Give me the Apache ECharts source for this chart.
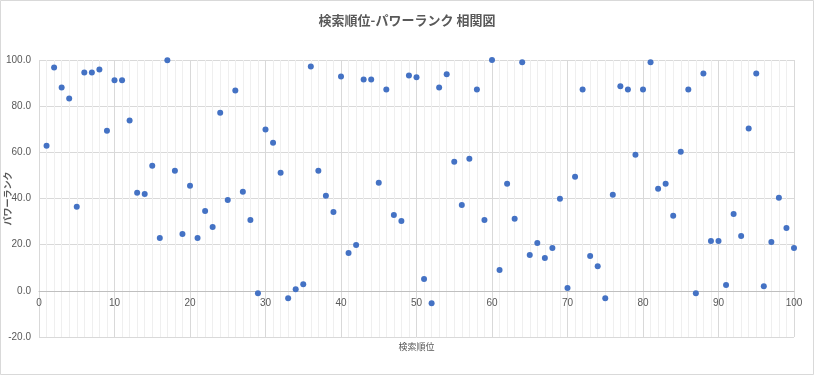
<!DOCTYPE html>
<html>
<head>
<meta charset="utf-8">
<script src="https://cdn.jsdelivr.net/npm/echarts@6/dist/echarts.min.js"></script>
<style>
html,body{margin:0;padding:0;background:#fff;}
#chart{width:814px;height:375px;}
</style>
</head>
<body>
<div id="chart"></div>
<script>
const titleText = '検索順位-パワーランク 相関図';
const xName = '検索順位';
const yName = 'パワーランク';
const rankX = [];
for (let i = 1; i <= 100; i++) rankX.push(i);
const powerRank = [
  62.9, 96.8, 88.1, 83.3, 36.4, 94.6, 94.6, 95.9, 69.4, 91.2,
  91.2, 73.8, 42.5, 42.0, 54.2, 22.9, 99.9, 52.0, 24.6, 45.5,
  22.9, 34.6, 27.7, 77.2, 39.4, 86.8, 42.9, 30.7, -1.0, 69.9,
  64.2, 51.2, -3.2, 0.7, 2.9, 97.2, 52.0, 41.2, 34.2, 92.9,
  16.4, 19.9, 91.6, 91.6, 46.8, 87.2, 32.9, 30.3, 93.3, 92.5,
  5.1, -5.4, 88.1, 93.8, 55.9, 37.2, 57.2, 87.2, 30.7, 100.0,
  9.0, 46.4, 31.2, 99.0, 15.5, 20.7, 14.2, 18.6, 39.9, 1.2,
  49.4, 87.2, 15.1, 10.7, -3.2, 41.6, 88.6, 87.2, 59.0, 87.2,
  99.0, 44.2, 46.4, 32.5, 60.3, 87.2, -1.0, 94.2, 21.6, 21.6,
  2.5, 33.3, 23.8, 70.3, 94.2, 2.0, 21.2, 40.3, 27.2, 18.6
];
const data = rankX.map((x, i) => [x, powerRank[i]]);

const gridTop = 60, gridBottom = 38, chartH = 375;
const plotH = chartH - gridTop - gridBottom;
const zeroOffset = plotH * 20 / 120; // distance from -20 line up to 0 line

const chart = echarts.init(document.getElementById('chart'), null, {renderer: 'canvas'});
const jp = '"Noto Sans CJK JP", "Noto Sans", sans-serif';
chart.setOption({
  backgroundColor: '#ffffff',
  animation: false,
  title: {
    text: titleText,
    left: 'center',
    top: 9,
    textStyle: {fontFamily: jp, fontSize: 13, fontWeight: 'bold', color: '#595959'}
  },
  graphic: [{
    type: 'rect',
    shape: {x: 0.5, y: 0.5, width: 813, height: 374},
    style: {fill: 'none', stroke: '#d9d9d9', lineWidth: 1},
    silent: true
  }],
  grid: {left: 39, right: 20, top: gridTop, bottom: gridBottom, containLabel: false, outerBoundsMode: 'none'},
  xAxis: {
    type: 'value',
    min: 0, max: 100, interval: 10,
    name: xName,
    nameLocation: 'middle',
    nameGap: 51,
    nameMoveOverlap: false,
    offset: -zeroOffset,
    nameTextStyle: {fontFamily: jp, fontSize: 9, color: '#595959'},
    axisLine: {show: true, onZero: false, lineStyle: {color: '#bfbfbf', width: 1}},
    axisTick: {show: false},
    axisLabel: {color: '#595959', fontSize: 10, fontFamily: '"Liberation Sans", sans-serif', margin: 7},
    splitLine: {show: true, lineStyle: {color: '#d9d9d9', width: 1}},
    minorTick: {show: false, splitNumber: 10},
    minorSplitLine: {show: true, lineStyle: {color: '#efefef', width: 1}}
  },
  yAxis: {
    type: 'value',
    min: -20, max: 100, interval: 20,
    name: yName,
    nameLocation: 'middle',
    nameGap: 27,
    nameRotate: 90,
    nameMoveOverlap: false,
    nameTextStyle: {fontFamily: jp, fontSize: 9, fontWeight: 'bold', color: '#595959'},
    axisLine: {show: false},
    axisTick: {show: false},
    axisLabel: {color: '#595959', fontSize: 10, fontFamily: '"Liberation Sans", sans-serif', margin: 8,
      formatter: v => v.toFixed(1)},
    splitLine: {show: true, lineStyle: {color: '#d9d9d9', width: 1}}
  },
  series: [{
    type: 'scatter',
    data: data,
    symbol: 'circle',
    symbolSize: 6,
    itemStyle: {color: '#4472C4', opacity: 1}
  }]
});
</script>
</body>
</html>
